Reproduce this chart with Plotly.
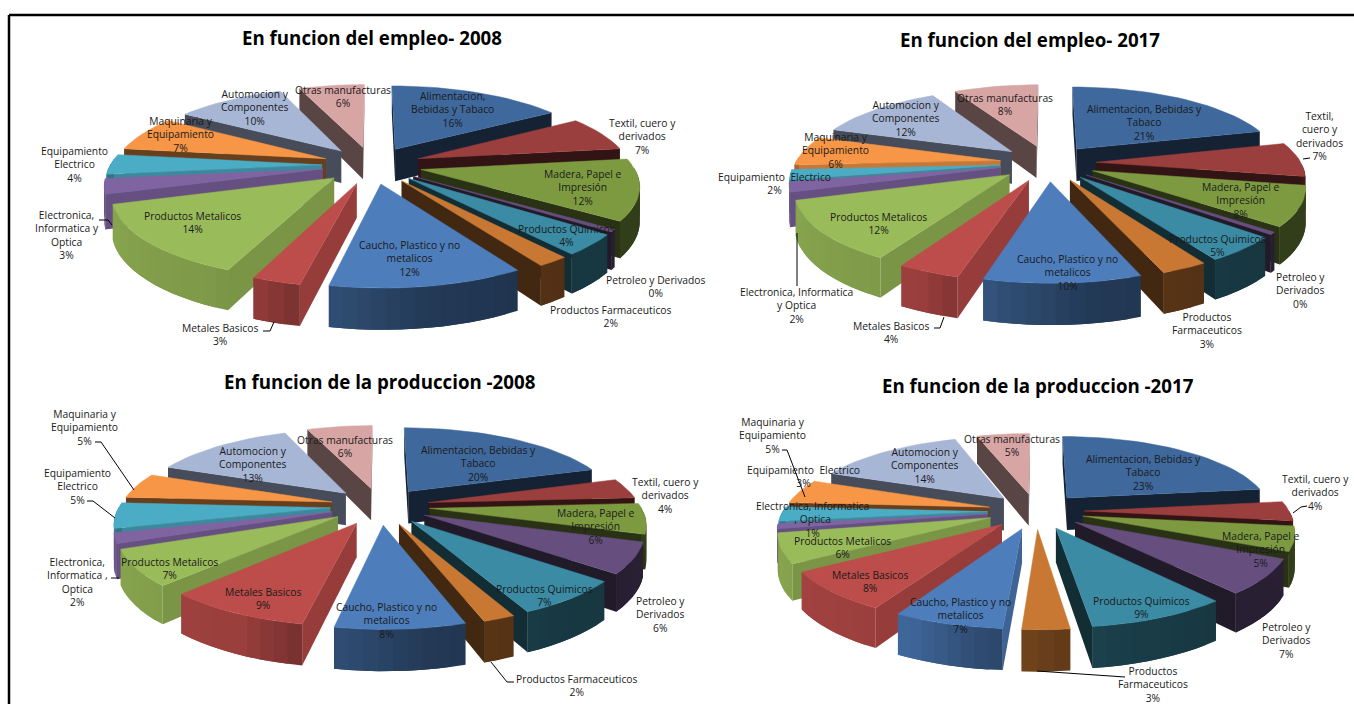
import numpy as np
import plotly.graph_objects as go

# sector names, clockwise from twelve o'clock
sectors = ["Alimentacion", "Textil", "Madera", "Petroleo", "Quimicos", "Farmaceuticos", "Caucho",
           "Metales", "Metalicos", "Electronica", "Electrico", "Maquinaria", "Automocion", "Otras"]

# shares in percent (the 0% petroleum wedge is still a thin sliver)
empleo_2008 = [16, 7, 12, 0.5, 4, 2, 12, 3, 14, 3, 4, 7, 10, 6]
empleo_2017 = [21, 7, 8, 0.5, 5, 3, 10, 4, 12, 2, 2, 6, 12, 8]
produccion_2008 = [20, 4, 6, 6, 7, 2, 8, 9, 7, 2, 5, 5, 13, 6]
produccion_2017 = [23, 4, 5, 7, 9, 3, 7, 8, 6, 1, 3, 5, 14, 5]

titles = ["En funcion del empleo- 2008", "En funcion del empleo- 2017",
          "En funcion de la produccion -2008", "En funcion de la produccion -2017"]

names_2008_e = ["Alimentacion,<br>Bebidas y Tabaco", "Textil, cuero y<br>derivados", "Madera, Papel e<br>Impresión",
                "Petroleo y Derivados", "Productos Quimicos", "Productos Farmaceuticos",
                "Caucho, Plastico y no<br>metalicos", "Metales Basicos", "Productos Metalicos",
                "Electronica,<br>Informatica y<br>Optica", "Equipamiento<br>Electrico", "Maquinaria y<br>Equipamiento",
                "Automocion y<br>Componentes", "Otras manufacturas"]
names_2017_e = ["Alimentacion, Bebidas y<br>Tabaco", "Textil,<br>cuero y<br>derivados", "Madera, Papel e<br>Impresión",
                "Petroleo y<br>Derivados", "Productos Quimicos", "Productos<br>Farmaceuticos",
                "Caucho, Plastico y no<br>metalicos", "Metales Basicos", "Productos Metalicos",
                "Electronica, Informatica<br>y Optica", "Equipamiento  Electrico", "Maquinaria y<br>Equipamiento",
                "Automocion y<br>Componentes", "Otras manufacturas"]
names_2008_p = ["Alimentacion, Bebidas y<br>Tabaco", "Textil, cuero y<br>derivados", "Madera, Papel e<br>Impresión",
                "Petroleo y<br>Derivados", "Productos Quimicos", "Productos Farmaceuticos",
                "Caucho, Plastico y no<br>metalicos", "Metales Basicos", "Productos Metalicos",
                "Electronica,<br>Informatica ,<br>Optica", "Equipamiento<br>Electrico", "Maquinaria y<br>Equipamiento",
                "Automocion y<br>Componentes", "Otras manufacturas"]
names_2017_p = ["Alimentacion, Bebidas y<br>Tabaco", "Textil, cuero y<br>derivados", "Madera, Papel e<br>Impresión",
                "Petroleo y<br>Derivados", "Productos Quimicos", "Productos<br>Farmaceuticos",
                "Caucho, Plastico y no<br>metalicos", "Metales Basicos", "Productos Metalicos",
                "Electronica, Informatica<br>, Optica", "Equipamiento  Electrico", "Maquinaria y<br>Equipamiento",
                "Automocion y<br>Componentes", "Otras manufacturas"]

# style and layout, page pixels
top_colors = ["#3F689C", "#9A3F3D", "#7D9A41", "#664F7F", "#3A8BA3", "#C97834", "#4D7DBB",
              "#BC4D4B", "#9ABB59", "#8064A2", "#4BACC6", "#F79646", "#A7B6D5", "#D8A5A5"]

charts = [
    dict(values=empleo_2008, names=names_2008_e, title=titles[0], title_xy=(372, 37), center=(372, 165), rx=212, ry=79,
         labels=[(452, 109), (642, 136), (583, 187), (656, 286), (566, 235), (611, 316), (409, 258),
                 (220, 334), (192, 222), (67, 235), (74, 164), (180, 134), (255, 107), (343, 96)],
         leaders=[[(99, 220), (108, 220), (112, 225)], [(263, 331), (270, 331), (274, 322)]]),
    dict(values=empleo_2017, names=names_2017_e, title=titles[1], title_xy=(1030, 39), center=(1048, 163), rx=205, ry=77,
         labels=[(1144, 122), (1319, 136), (1241, 200), (1300, 290), (1217, 245), (1207, 330), (1067, 272),
                 (891, 332), (878, 223), (796, 305), (774, 183), (835, 150), (906, 118), (1005, 104)],
         leaders=[[(1303, 159), (1310, 158)], [(934, 328), (940, 328), (944, 317)], [(797, 233), (797, 286)]]),
    dict(values=produccion_2008, names=names_2008_p, title=titles[2], title_xy=(380, 381), center=(380, 506), rx=211, ry=79,
         labels=[(478, 463), (665, 495), (596, 526), (660, 614), (544, 595), (577, 685), (386, 620),
                 (263, 598), (169, 568), (77, 582), (77, 486), (84, 427), (253, 464), (345, 446)],
         leaders=[[(95, 442), (101, 442), (134, 490)], [(87, 501), (93, 501), (115, 518)], [(111, 578), (119, 578)],
                  [(491, 662), (507, 682), (514, 682)]]),
    dict(values=produccion_2017, names=names_2017_p, title=titles[3], title_xy=(1038, 385), center=(1036, 511), rx=205, ry=76,
         labels=[(1143, 472), (1315, 492), (1261, 549), (1286, 640), (1141, 607), (1153, 684), (960, 615),
                 (870, 581), (842, 547), (812, 519), (803, 476), (772, 435), (925, 465), (1012, 445)],
         leaders=[[(782, 450), (787, 450), (805, 497)], [(1307, 506), (1301, 507), (1293, 513)],
                  [(1037, 671), (1125, 677)]]),
]

PULL = 0.235  # explosion, in pie radii
PERSP = 0.17
DEPTH = 33


def shade(color, f):
    rgb = [int(color[i:i + 2], 16) for i in (1, 3, 5)]
    return "rgb(%d,%d,%d)" % tuple(int(c * f) for c in rgb)


def wall_factor(theta):
    # brighter towards the front left, like the Excel bevel
    return np.interp(theta, [0, 60, 140, 170, 190, 205, 250, 290, 360],
                     [0.42, 0.42, 0.40, 0.46, 0.62, 0.82, 0.88, 0.45, 0.42])


def edge_factor(theta):
    if theta < 180:
        return 0.33
    return 0.8 if theta < 270 else 0.42


def project(chart, u, v, z=0):
    p = 1 / (1 - PERSP * v)
    cx, cy = chart["center"]
    return cx + chart["rx"] * u * p, cy + chart["ry"] * v * p + z * DEPTH * p


def add_poly(fig, xs, ys, color, name=None):
    # strips get no outline so their seams stay invisible
    fig.add_trace(go.Scatter(x=xs, y=ys, mode="lines" if name else "none", fill="toself", fillcolor=color,
                             line=dict(color=color, width=0.5), showlegend=False,
                             hoverinfo="text" if name else "skip", text=name))


def draw_pie(fig, chart):
    vals = np.array(chart["values"], dtype=float)
    bounds = np.concatenate([[0], np.cumsum(vals)]) / vals.sum() * 360
    wedges = []
    for i in range(len(vals)):
        mid = np.radians((bounds[i] + bounds[i + 1]) / 2)
        wedges.append((-np.cos(mid), i))
    # back to front
    for _, i in sorted(wedges):
        t0, t1 = bounds[i], bounds[i + 1]
        mid = np.radians((t0 + t1) / 2)
        ou, ov = PULL * np.sin(mid), -PULL * np.cos(mid)
        th = np.linspace(t0, t1, max(3, int((t1 - t0) / 3) + 1))
        us = ou + np.sin(np.radians(th))
        vs = ov - np.cos(np.radians(th))
        ax, ay = project(chart, ou, ov)
        ex, ey = project(chart, us, vs)
        color = top_colors[i]

        # radial faces that look down at the viewer
        for k, other, theta in ((0, -1, t0), (-1, 0, t1)):
            cross_in = (ex[k] - ax) * (ey[other] - ay) - (ey[k] - ay) * (ex[other] - ax)
            cross_down = ex[k] - ax
            if cross_in * cross_down < 0:
                bx, by = project(chart, ou, ov, 1)
                fx, fy = project(chart, us[k], vs[k], 1)
                add_poly(fig, [ax, ex[k], fx, bx, ax], [ay, ey[k], fy, by, ay], shade(color, edge_factor(theta)))

        # outer wall, in overlapping strips for the gradient
        fx, fy = project(chart, us, vs, 1)
        n = len(th)
        for j in range(n - 1):
            if (ey[j] + ey[j + 1]) / 2 < ay:
                continue
            e = min(j + 2, n - 1)
            add_poly(fig, [ex[j], ex[j + 1], ex[e], fx[e], fx[j + 1], fx[j], ex[j]],
                     [ey[j], ey[j + 1], ey[e], fy[e], fy[j + 1], fy[j], ey[j]],
                     shade(color, wall_factor((th[j] + th[j + 1]) / 2)))

        hover = "%s: %g%%" % (chart["names"][i].replace("<br>", " "), vals[i])
        add_poly(fig, np.r_[ax, ex, ax], np.r_[ay, ey, ay], color, hover)


fig = go.Figure()
notes = []
for chart in charts:
    draw_pie(fig, chart)
    for name, val, (x, y) in zip(chart["names"], chart["values"], chart["labels"]):
        notes.append(dict(x=x, y=y, text="%s<br>%d%%" % (name, round(val) if val >= 1 else 0), showarrow=False,
                          font=dict(family="Open Sans", size=10.3, color="#1a1a1a")))
    notes.append(dict(x=chart["title_xy"][0], y=chart["title_xy"][1], text="<b>%s</b>" % chart["title"], showarrow=False,
                      font=dict(family="Open Sans", size=18.7, color="black")))
    for line in chart["leaders"]:
        xs, ys = zip(*line)
        fig.add_trace(go.Scatter(x=xs, y=ys, mode="lines", line=dict(color="black", width=1),
                                 showlegend=False, hoverinfo="skip"))

fig.update_layout(
    width=1354, height=704, margin=dict(l=0, r=0, t=0, b=0), paper_bgcolor="white", plot_bgcolor="white",
    xaxis=dict(range=[0, 1354], visible=False, fixedrange=True),
    yaxis=dict(range=[704, 0], visible=False, fixedrange=True),
    annotations=notes,
    shapes=[dict(type="line", x0=9, x1=1354, y0=15, y1=15, line=dict(color="black", width=2.5)),
            dict(type="line", x0=9, x1=9, y0=15, y1=704, line=dict(color="black", width=2.5))],
)
fig.write_html("out.html", post_script="document.body.style.margin='0';", config={"displayModeBar": False})
